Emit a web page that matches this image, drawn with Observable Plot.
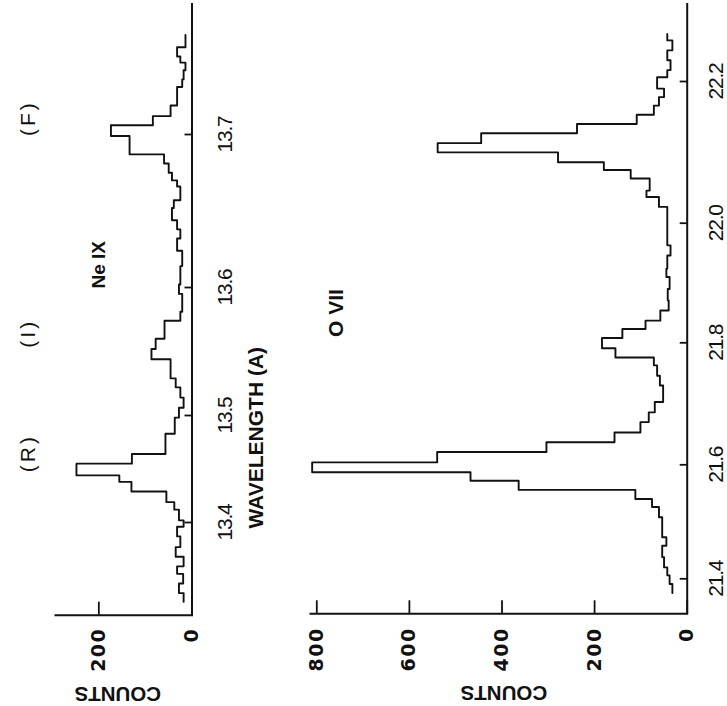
<!DOCTYPE html>
<html><head><meta charset="utf-8">
<script src="https://cdn.jsdelivr.net/npm/d3@7"></script>
<script src="https://cdn.jsdelivr.net/npm/@observablehq/plot@0.6"></script>
<style>
html,body{margin:0;padding:0;background:#fff;}
#chart{position:relative;width:727px;height:706px;overflow:hidden;background:#fff;}
#chart svg{position:absolute;left:0;top:0;background:transparent;}
</style></head><body><div id="chart"></div>
<script>
// ---- Data (wavelength bin edges in Å, counts per bin) ----
const neIXEdges = [13.765, 13.757, 13.751, 13.747, 13.742, 13.736, 13.731, 13.719, 13.712, 13.706,
  13.699, 13.687, 13.681, 13.675, 13.670, 13.666, 13.657, 13.652, 13.644, 13.638,
  13.632, 13.624, 13.614, 13.602, 13.595, 13.581, 13.574, 13.560, 13.552, 13.544,
  13.529, 13.522, 13.514, 13.506, 13.498, 13.483, 13.464, 13.455, 13.444, 13.438,
  13.429, 13.419, 13.412, 13.402, 13.396, 13.387, 13.377, 13.368, 13.359, 13.352,
  13.343, 13.334, 13.326];
const neIXCounts = [14, 32, 25, 14, 18, 21, 32, 46, 84, 174,
  134, 60, 50, 43, 32, 25, 39, 43, 32, 25,
  32, 21, 25, 28, 21, 25, 59, 78, 87, 46,
  35, 25, 18, 28, 37, 57, 129, 248, 156, 130,
  55, 38, 28, 18, 32, 25, 35, 18, 32, 19,
  28, 18];
const oVIIEdges = [22.267, 22.258, 22.244, 22.230, 22.216, 22.206, 22.190, 22.178, 22.166, 22.153,
  22.140, 22.127, 22.113, 22.100, 22.086, 22.075, 22.063, 22.046, 22.037, 22.023,
  21.963, 21.946, 21.924, 21.910, 21.890, 21.871, 21.854, 21.837, 21.823, 21.808,
  21.791, 21.776, 21.763, 21.746, 21.730, 21.703, 21.686, 21.670, 21.653, 21.637,
  21.621, 21.604, 21.587, 21.572, 21.556, 21.540, 21.526, 21.508, 21.473, 21.458,
  21.438, 21.420, 21.406, 21.391, 21.375];
const oVIICounts = [43, 32, 43, 36, 43, 65, 50, 61, 72, 109,
  238, 445, 539, 279, 180, 122, 81, 88, 61, 43,
  36, 43, 45, 38, 42, 40, 58, 90, 140, 184,
  155, 72, 65, 59, 52, 70, 83, 101, 157, 304,
  540, 810, 468, 364, 112, 76, 61, 54, 45, 54,
  50, 43, 38, 32];
const neIXTicks = [13.4, 13.5, 13.6, 13.7];
const oVIITicks = [21.4, 21.6, 21.8, 22.0, 22.2];
const neIXCountTicks = [0, 200];
const oVIICountTicks = [0, 200, 400, 600, 800];
const lineLabels = ["(R)", "(I)", "(F)"];
const neIXLineWavelengths = [13.447, 13.553, 13.699];

function steps(edges, counts) {
  const pts = [];
  counts.forEach((c, i) => {
    pts.push({w: edges[i], c});
    pts.push({w: edges[i + 1], c});
  });
  return pts;
}

const SANS = "Liberation Sans, Arial, sans-serif";
const W = 727, H = 706;

function panel(cfg) {
  const marks = [
    Plot.line(steps(cfg.edges, cfg.counts), {x: "c", y: "w", stroke: "#111", strokeWidth: 1.9, curve: "linear"}),
    Plot.ruleX([0], {stroke: "#111", strokeWidth: 2}),
    Plot.frame({anchor: "bottom", stroke: "#111", strokeWidth: 2}),
    Plot.axisY({anchor: "right", ticks: cfg.wTicks, tickFormat: d => d.toFixed(1), tickSize: -8, tickPadding: cfg.wPad,
      tickRotate: -90, textAnchor: "middle", lineAnchor: "middle", label: null,
      fontSize: 21, fontFamily: SANS, strokeWidth: 1.8, fill: "#111", stroke: "#111"}),
    Plot.axisX({anchor: "bottom", ticks: cfg.cTicks, tickFormat: d => String(d), tickSize: -13, tickPadding: cfg.cPad,
      tickRotate: -90, textAnchor: "end", lineAnchor: "middle", label: null,
      fontSize: 19, fontWeight: "bold", fontFamily: "DejaVu Sans, sans-serif", strokeWidth: 1.8, fill: "#111", stroke: "#111"}),
    Plot.text(["COUNTS"], {frameAnchor: "bottom", dx: cfg.countsDx, dy: cfg.countsDy, rotate: 180,
      fontSize: 20.5, fontWeight: "bold", fontFamily: SANS, fill: "#111"}),
    Plot.text([cfg.ion], {frameAnchor: "left", dx: cfg.ionDx, dy: cfg.ionDy, rotate: -90,
      fontSize: cfg.ionSize, fontWeight: "bold", fontFamily: SANS, fill: "#111"}),
    ...(cfg.extra || [])
  ];
  const svg = Plot.plot({
    width: W, height: H,
    marginLeft: cfg.left, marginRight: W - cfg.right, marginTop: 3, marginBottom: H - cfg.bottom,
    style: {background: "transparent", overflow: "visible", color: "#111"},
    x: {type: "linear", domain: [0, cfg.cMax], reverse: true, label: null},
    y: {type: "linear", domain: cfg.wTicks, range: cfg.wPix, label: null},
    marks
  });
  svg.querySelectorAll('g[aria-label="y-axis tick label"] text').forEach(t => t.style.letterSpacing = "-1.2px");
  svg.querySelectorAll('g[aria-label="x-axis tick label"] text').forEach(t => t.style.letterSpacing = "1.5px");
  svg.querySelectorAll('g.line-label text').forEach(t => t.style.letterSpacing = "3px");
  return svg;
}

const neSvg = panel({
  edges: neIXEdges, counts: neIXCounts, wTicks: neIXTicks, wPix: [522, 415, 287, 134],
  cTicks: neIXCountTicks, cMax: 293, left: 55, right: 191.5, bottom: 614.7,
  wPad: 41.5, cPad: 25.5, countsDx: -6, countsDy: 71.3,
  ion: "Ne IX", ionDx: 43, ionDy: -20.8, ionSize: 19,
  extra: [
    Plot.text(lineLabels, {text: d => d, y: (d, i) => neIXLineWavelengths[i], frameAnchor: "left", dx: -27.5, rotate: -90,
      fontSize: 21, fontFamily: SANS, fill: "#111", className: "line-label"}),
    Plot.text(["WAVELENGTH (A)"], {frameAnchor: "right", dx: 64.5, dy: 37.6, rotate: -90,
      fontSize: 21, fontWeight: "bold", fontFamily: SANS, fill: "#111"})
  ]
});
const oSvg = panel({
  edges: oVIIEdges, counts: oVIICounts, wTicks: oVIITicks, wPix: [578.3, 464.3, 342.3, 222.7, 81],
  cTicks: oVIICountTicks, cMax: 813.6, left: 310, right: 686.7, bottom: 613.3,
  wPad: 36.8, cPad: 26.5, countsDx: 5, countsDy: 72.2,
  ion: "O VII", ionDx: 25.5, ionDy: 28.3, ionSize: 21
});
const chart = document.getElementById("chart");
chart.appendChild(neSvg);
chart.appendChild(oSvg);
</script></body></html>
